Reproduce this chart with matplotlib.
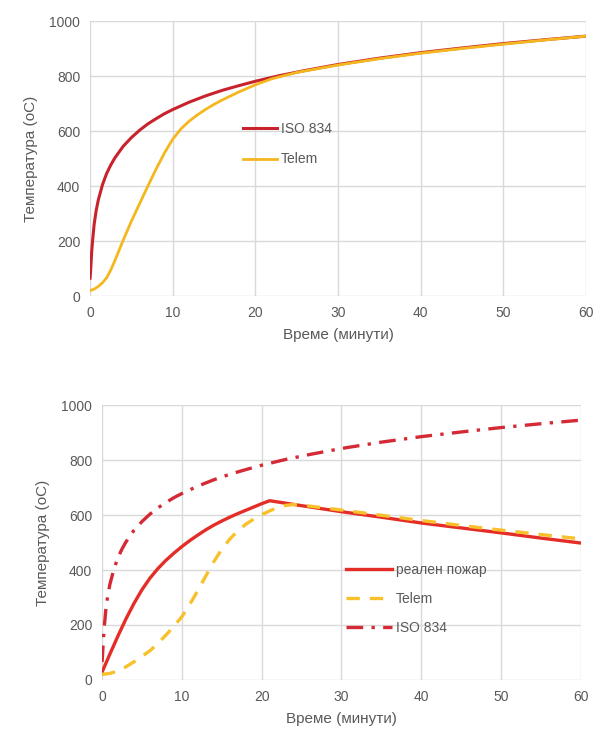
import matplotlib.pyplot as plt

plt.rcParams['font.family'] = ['Liberation Sans', 'DejaVu Sans']

# top chart data (time in minutes, temperature in oC)
iso_t = [0, 0.05, 0.1, 0.2, 0.3, 0.5, 0.75, 1, 1.5, 2, 2.5, 3, 4, 5, 6, 7, 8, 9, 10, 12, 14, 16, 18, 20,
         23, 26, 30, 35, 40, 45, 50, 55, 60]
iso_T = [65, 80, 108, 160, 198, 261, 312, 349, 404, 445, 476, 502, 544, 576, 603, 626, 645, 663, 678, 705,
         728, 748, 765, 781, 802, 820, 842, 865, 885, 902, 918, 932, 945]

telem_t = [0, 0.5, 1, 1.5, 2, 2.5, 3, 4, 5, 6, 7, 8, 9, 10, 11, 12, 13, 14, 15, 16, 18, 20, 22, 25, 30,
           35, 40, 45, 50, 55, 60]
telem_T = [20, 25, 35, 48, 66, 94, 128, 202, 272, 336, 400, 462, 520, 570, 608, 636, 659, 679, 697, 713,
           742, 768, 790, 813, 840, 863, 883, 900, 916, 931, 945]

# bottom chart data
real_t = [0, 1, 2, 3, 4, 5, 6, 7, 8, 9, 10, 11, 12, 13, 14, 15, 16, 17, 18, 19, 20, 21, 25, 30, 35, 40,
          45, 50, 55, 60]
real_T = [28, 95, 160, 222, 278, 328, 370, 405, 435, 461, 485, 507, 527, 546, 563, 578, 592, 605, 617,
          629, 641, 652, 634, 612, 592, 571, 553, 535, 516, 498]

telem2_t = [0, 1, 2, 3, 4, 5, 6, 7, 8, 9, 10, 11, 12, 13, 14, 15, 16, 17, 18, 19, 20, 21, 22, 23, 24, 25,
            30, 35, 40, 45, 50, 55, 60]
telem2_T = [20, 24, 33, 48, 66, 86, 106, 133, 163, 195, 230, 275, 325, 378, 430, 475, 512, 542, 566, 585,
            601, 615, 627, 635, 638, 636, 618, 599, 580, 562, 545, 529, 513]

time_ticks = [0, 10, 20, 30, 40, 50, 60]
temp_ticks = [0, 200, 400, 600, 800, 1000]

fig = plt.figure(figsize=(5.95, 7.38), dpi=100)
ax1 = fig.add_axes([0.1513, 0.5989, 0.8336, 0.3726])
ax2 = fig.add_axes([0.1714, 0.0786, 0.8050, 0.3726])

text_col = '#595959'
grid_col = '#d9d9d9'

for ax in (ax1, ax2):
    ax.set_xlim(0, 60)
    ax.set_ylim(0, 1000)
    ax.set_xticks(time_ticks)
    ax.set_yticks(temp_ticks)
    ax.grid(True, color=grid_col, linewidth=1)
    ax.set_axisbelow(True)
    for s in ax.spines.values():
        s.set_visible(False)
    ax.tick_params(length=0, labelsize=10, colors=text_col, pad=7)
    ax.set_xlabel('Време (минути)', fontsize=11, color=text_col, labelpad=6)
    ax.set_ylabel('Температура (оС)', fontsize=11, color=text_col, labelpad=8)

l1, = ax1.plot(iso_t, iso_T, color='#c8232c', linewidth=2.2, label='ISO 834')
l2, = ax1.plot(telem_t, telem_T, color='#f5b71e', linewidth=2.0, label='Telem')
ax1.legend(handles=[l1, l2], loc='upper left', bbox_to_anchor=(0.284, 0.68), frameon=False,
           fontsize=10, labelcolor=text_col, handlelength=2.4, handletextpad=0.3, labelspacing=1.22)

m1, = ax2.plot(real_t, real_T, color='#e52d27', linewidth=2.4, label='реален пожар')
m2, = ax2.plot(telem2_t, telem2_T, color='#f8c02a', linewidth=2.4, linestyle=(0, (4, 3)), label='Telem')
m3, = ax2.plot(iso_t, iso_T, color='#d42a35', linewidth=2.4, linestyle=(0, (5, 2.5, 1, 2.5)),
               label='ISO 834')
ax2.legend(handles=[m1, m2, m3], loc='upper left', bbox_to_anchor=(0.483, 0.472), frameon=False,
           fontsize=10, labelcolor=text_col, handlelength=3.3, handletextpad=0.3, labelspacing=1.08)

fig.savefig('out.png', dpi=100)
